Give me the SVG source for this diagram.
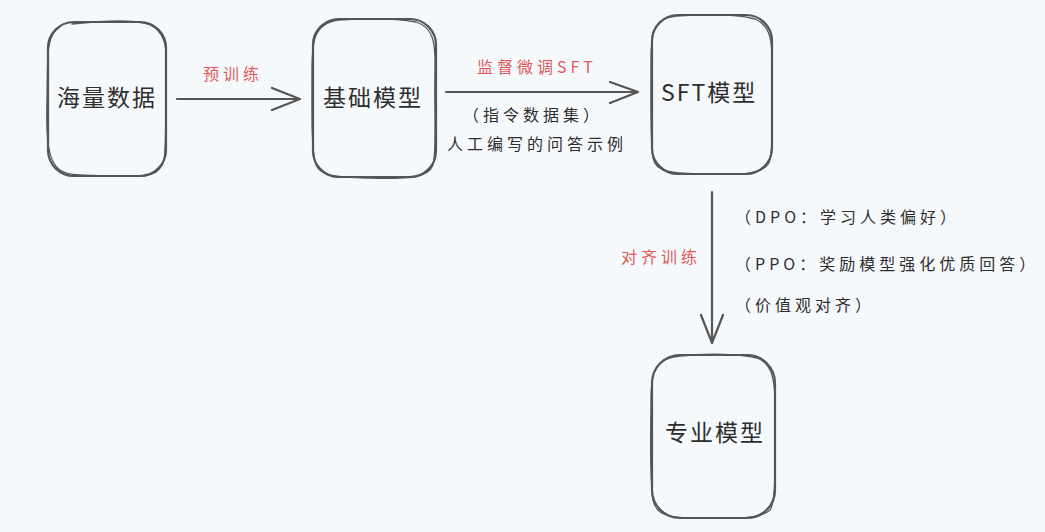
<svg xmlns="http://www.w3.org/2000/svg" width="1045" height="532" viewBox="0 0 1045 532">
<style>
.box{fill:none;stroke:#555;stroke-width:2.2;stroke-linecap:round;stroke-linejoin:round}
.box2{fill:none;stroke:#555;stroke-width:1.3;stroke-linecap:round}
.edge{fill:none;stroke:#555;stroke-width:2.2;stroke-linecap:round;stroke-linejoin:round}
.t{font-family:"Noto Sans CJK SC","Noto Sans",sans-serif;fill:#2e2e2e}
.node{font-size:23px;letter-spacing:2px}
.red{fill:#e05a5a;font-size:16px;letter-spacing:4px}
.note{font-size:16px;letter-spacing:4px}
</style>
<rect width="1045" height="532" fill="#f6f9fc"/>
<g id="n1">
<rect class="box" x="48" y="22" width="118" height="154" rx="26"/>
<path class="box2" d="M72 24 C100 21 130 20 144 23 C160 26 167 40 166 60 C165 100 167 140 164 160 C160 175 150 177 120 176 C90 175 70 177 60 170 C48 162 46 140 47 100 C48 60 45 35 60 27"/>
<text class="t node" x="57" y="106">海量数据</text>
</g>
<g id="n2">
<rect class="box" x="313" y="19" width="123" height="158" rx="26"/>
<path class="box2" d="M338 20 C370 18 400 19 416 22 C432 27 436 40 435 70 C434 110 437 150 433 165 C428 178 410 179 370 178 C340 177 322 178 316 165 C311 150 312 110 312 70 C312 40 314 24 338 20"/>
<text class="t node" x="323" y="106">基础模型</text>
</g>
<g id="n3">
<rect class="box" x="652" y="15" width="120" height="159" rx="26"/>
<path class="box2" d="M676 16 C710 14 740 15 755 19 C770 25 773 40 772 70 C771 110 774 150 769 163 C762 175 740 175 700 174 C670 173 656 172 653 158 C650 140 651 100 651 60 C651 30 655 18 676 16"/>
<text class="t node" x="661" y="101">SFT模型</text>
</g>
<g id="n4">
<rect class="box" x="652" y="355" width="123" height="163" rx="28"/>
<path class="box2" d="M680 356 C710 353 740 354 757 358 C773 364 776 380 775 420 C774 460 777 500 770 510 C760 519 740 518 700 518 C670 518 656 516 653 500 C649 470 651 430 651 400 C651 370 656 358 680 356"/>
<text class="t node" x="665" y="441">专业模型</text>
</g>
<g id="edges">
<path class="edge" d="M177 99 L300 99 M272 88 L300 99 L272 110"/>
<path class="edge" d="M446 92 L638 92 M610 82 L638 92 L610 103"/>
<path class="edge" d="M712 192 L712 343 M701 315 L712 343 L723 315"/>
<text class="t red" x="203" y="80">预训练</text>
<text class="t red" x="477" y="73">监督微调SFT</text>
<text class="t note" x="463" y="121">（指令数据集）</text>
<text class="t note" x="447" y="150">人工编写的问答示例</text>
<text class="t red" x="621" y="263">对齐训练</text>
<text class="t note" x="735" y="223">（DPO：学习人类偏好）</text>
<text class="t note" x="735" y="270">（PPO：奖励模型强化优质回答）</text>
<text class="t note" x="735" y="311">（价值观对齐）</text>
</g>
</svg>
